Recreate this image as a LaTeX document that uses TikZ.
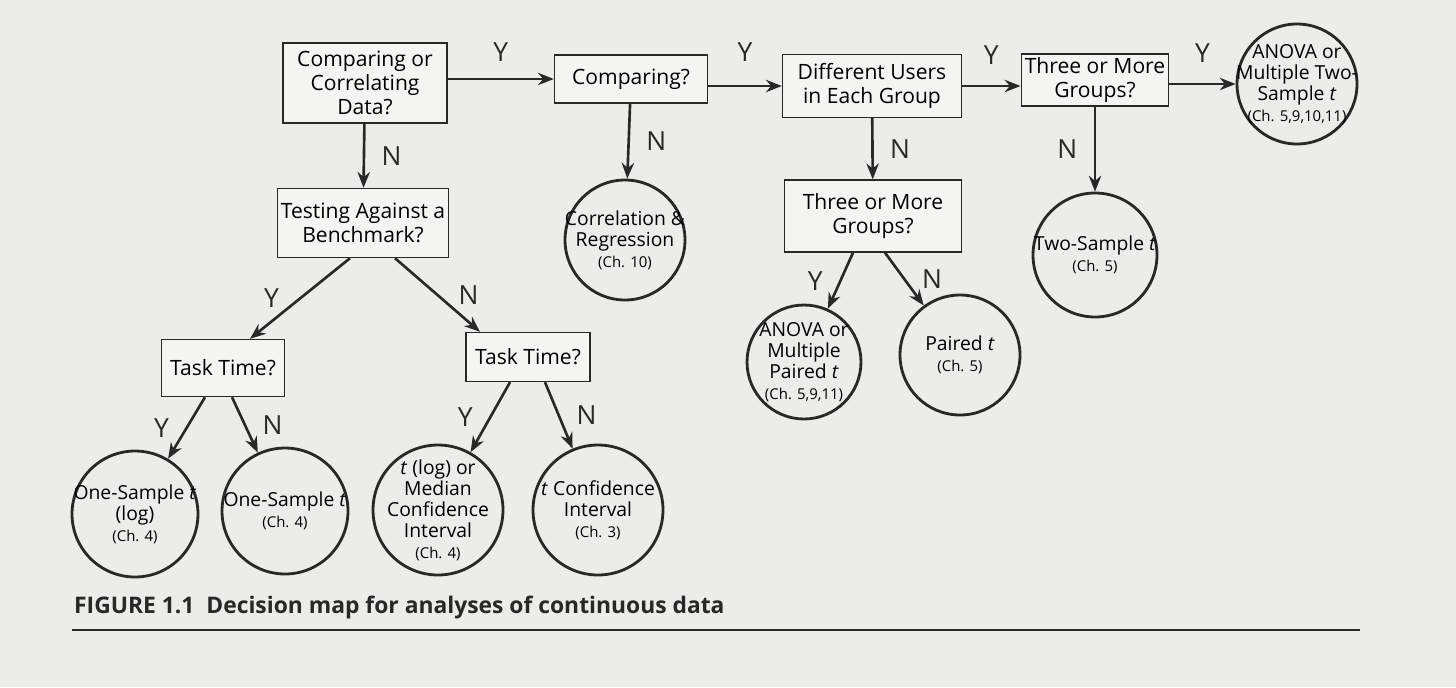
\documentclass[tikz,border=0pt]{standalone}
\usepackage{fontspec}
\setmainfont{Open Sans}
\usetikzlibrary{arrows.meta}
\usetikzlibrary{positioning}
\definecolor{paper}{RGB}{236, 236, 234}
\definecolor{ink}{RGB}{40, 40, 40}

\tikzset{
  qbox/.style={draw=ink, thick, fill=white!40!paper, align=center, inner sep=2pt, font=\fontsize{12}{13.5}\selectfont},
  tcirc/.style={draw=ink, line width=1.6pt, circle, align=center, inner sep=-8pt, font=\fontsize{11}{12}\selectfont},
  flow/.style={-{Stealth[length=9pt,width=7pt]}, line width=1.5pt, draw=ink},
  yn/.style={font=\fontsize{15}{15}\selectfont, text=ink}
}
\newcommand{\chs}[1]{{\fontsize{8.5}{10}\selectfont #1}}

\begin{document}
\begin{tikzpicture}[x=0.02cm, y=-0.02cm]
            \fill[paper] (0,0) rectangle (1456,687);
            \useasboundingbox (0,0) rectangle (1456,687);
            % question boxes
            \node[qbox, minimum width=3.28cm, minimum height=1.6cm] (cmpcor)  at (365, 83) {Comparing or\\Correlating\\Data?};
            \node[qbox, minimum width=3.06cm, minimum height=0.96cm] (cmp)     at (631, 79) {Comparing?};
            \node[qbox, minimum width=3.58cm, minimum height=1.26cm] (diffu)   at (872, 86) {Different Users\\in Each Group};
            \node[qbox, minimum width=2.88cm, minimum height=1.0cm]  (three)   at (1095,80) {Three or More\\Groups?};
            \node[qbox, minimum width=3.3cm,  minimum height=1.38cm] (bench)   at (363,223) {Testing Against a\\Benchmark?};
            \node[qbox, minimum width=3.54cm, minimum height=1.44cm] (threeb)  at (873,216) {Three or More\\Groups?};
            \node[qbox, minimum width=2.46cm, minimum height=1.14cm] (taskl)   at (223,368) {Task Time?};
            \node[qbox, minimum width=2.48cm, minimum height=0.98cm] (taskr)   at (528,357) {Task Time?};
            % outcome circles
            \node[tcirc, minimum size=2.4cm]  (anovatwo) at (1297,84)  {ANOVA or\\Multiple Two-\\Sample \textit{t}\\\chs{(Ch. 5,9,10,11)}};
            \node[tcirc, minimum size=2.4cm]  (corr)     at (625,240)  {Correlation \&\\Regression\\\chs{(Ch. 10)}};
            \node[tcirc, minimum size=2.48cm] (twos)     at (1095,255) {Two-Sample \textit{t}\\\chs{(Ch. 5)}};
            \node[tcirc, minimum size=2.28cm] (anovap)   at (804,362)  {ANOVA or\\Multiple\\Paired \textit{t}\\\chs{(Ch. 5,9,11)}};
            \node[tcirc, minimum size=2.4cm]  (paired)   at (960,355)  {Paired \textit{t}\\\chs{(Ch. 5)}};
            \node[tcirc, minimum size=2.52cm] (onelog)   at (135,514)  {One-Sample \textit{t}\\(log)\\\chs{(Ch. 4)}};
            \node[tcirc, minimum size=2.52cm] (oneplain) at (285,511)  {One-Sample \textit{t}\\\chs{(Ch. 4)}};
            \node[tcirc, minimum size=2.6cm]  (median)   at (438,510)  {\textit{t} (log) or\\Median\\Confidence\\Interval\\\chs{(Ch. 4)}};
            \node[tcirc, minimum size=2.6cm]  (tconf)    at (598,510)  {\textit{t} Confidence\\Interval\\\chs{(Ch. 3)}};
            % connectors
            \draw[flow] (cmpcor.east |- cmp) -- node[yn, above=6pt] {Y} (cmp);
            \draw[flow] (cmp.east |- 0,86) -- node[yn, above=10pt] {Y} (diffu.west |- 0,86);
            \draw[flow] (diffu.east |- 0,86) -- node[yn, above=8pt] {Y} (three.west |- 0,86);
            \draw[flow] (three.east |- 0,84) -- node[yn, above=8pt] {Y} (anovatwo);
            \draw[flow] (cmpcor) -- node[yn, right=6pt] {N} (bench);
            \draw[flow] (cmp) -- node[yn, right=6pt] {N} (corr);
            \draw[flow] (diffu) -- node[yn, right=6pt] {N} (threeb);
            \draw[flow] (three) -- node[yn, left=6pt] {N} (twos);
            \draw[flow] (bench.south -| 350,0) -- node[yn, left=8pt] {Y} (taskl.north -| 250,0);
            \draw[flow] (bench.south -| 395,0) -- node[yn, right=8pt] {N} (taskr.north -| 480,0);
            \draw[flow] (threeb.south -| 853,0) -- node[yn, left=6pt] {Y} (anovap);
            \draw[flow] (threeb.south -| 885,0) -- node[yn, right=6pt] {N} (paired);
            \draw[flow] (taskl.south -| 205,0) -- node[yn, left=6pt] {Y} (onelog);
            \draw[flow] (taskl.south -| 232,0) -- node[yn, right=6pt] {N} (oneplain);
            \draw[flow] (taskr.south -| 510,0) -- node[yn, left=6pt] {Y} (median);
            \draw[flow] (taskr.south -| 545,0) -- node[yn, right=6pt] {N} (tconf);
            % caption
            \node[anchor=west, font=\fontsize{13}{13}\selectfont\bfseries, text=ink] (cap) at (68,607)
                 {FIGURE 1.1\ \ Decision map for analyses of continuous data};
            \draw[ink, thick] (72,630) -- (1360,630);
        \end{tikzpicture}
\end{document}
